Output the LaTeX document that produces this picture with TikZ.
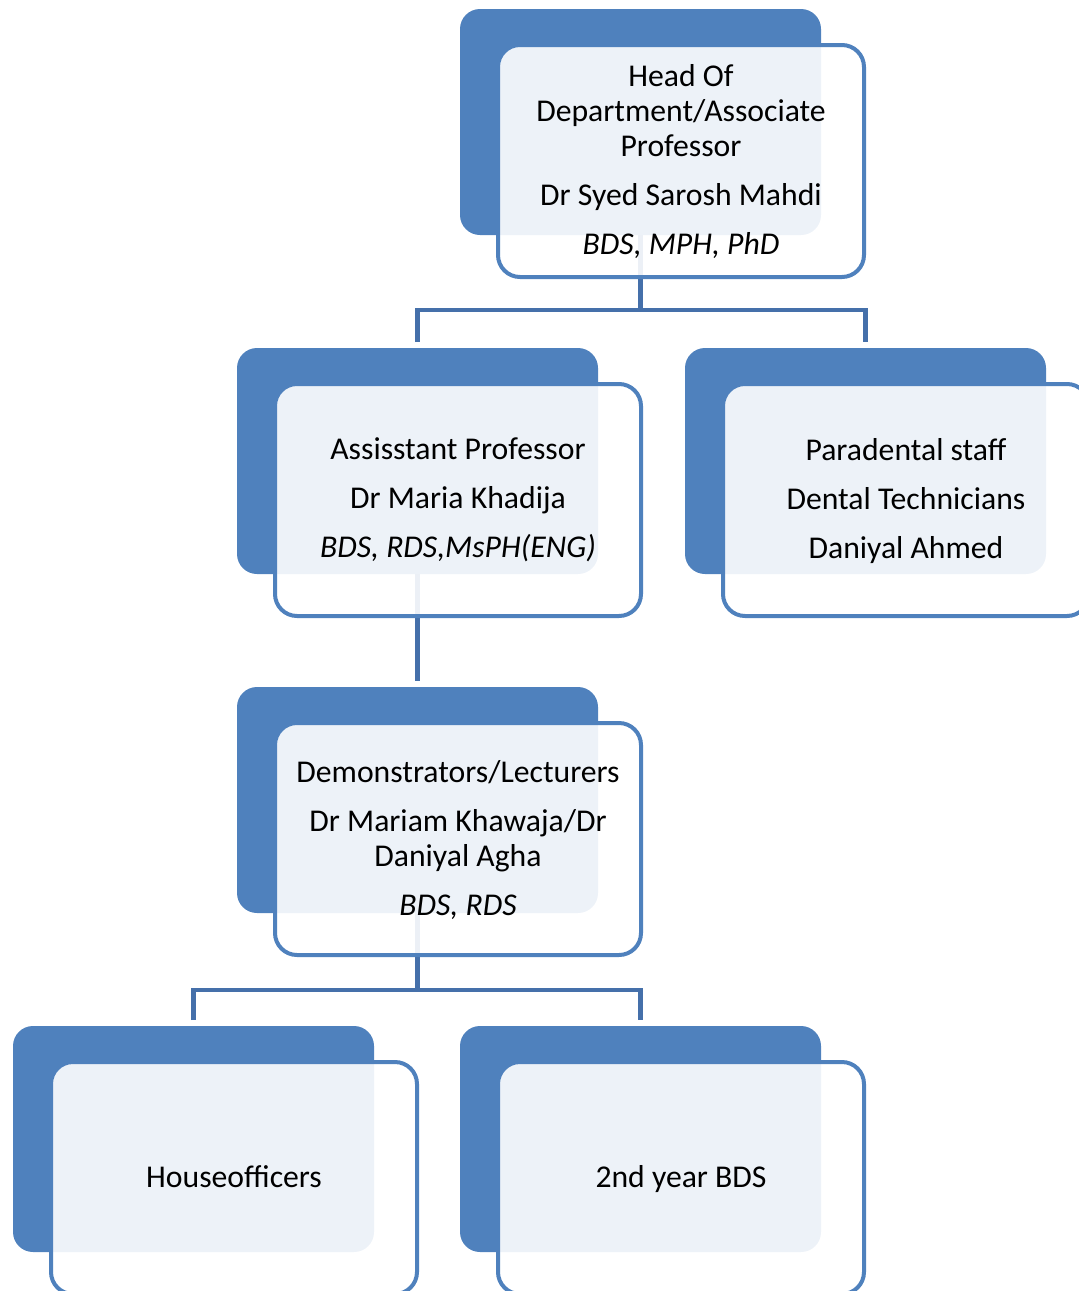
\documentclass[tikz,border=0pt]{standalone}
\usepackage{fontspec}
\setmainfont{Carlito}
\definecolor{accent}{HTML}{4F81BD}
\definecolor{connc}{HTML}{4570AA}
\tikzset{
  backbox/.style={rectangle, rounded corners=20pt, fill=accent, minimum width=361pt, minimum height=226pt, inner sep=0pt, outer sep=0pt},
  frontbox/.style={rectangle, rounded corners=22pt, fill=white, fill opacity=0.9, draw=accent, line width=4pt, minimum width=366pt, minimum height=232pt, inner sep=0pt, outer sep=0pt},
  boxtext/.style={anchor=north, align=center, inner sep=0pt, outer sep=0pt, text=black, font=\fontsize{31.7}{35}\selectfont},
  conn/.style={draw=connc, line width=4.5pt, line join=miter}
}
\newcommand{\topstrut}{\rule{0pt}{25pt}}
\begin{document}
\begin{tikzpicture}[x=1pt,y=-1pt]
\useasboundingbox (0,0) rectangle (1079,1291);
\clip (0,0) rectangle (1079,1291);
% back boxes
\node[backbox] (hb)  at (640.5,122)  {};
\node[backbox] (alb) at (417.5,461)  {};
\node[backbox] (arb) at (865.5,461)  {};
\node[backbox] (mb)  at (417.5,800)  {};
\node[backbox] (lb)  at (193.5,1139) {};
\node[backbox] (rb)  at (640.5,1139) {};
% connectors
\coordinate (j1) at (640.5,310);
\coordinate (j2) at (417.5,990);
\draw[conn] (hb.south) -- (j1);
\draw[conn] ([yshift=6pt]alb.north) |- (j1) -| ([yshift=6pt]arb.north);
\draw[conn] (alb.south) -- ([yshift=6pt]mb.north);
\draw[conn] (mb.south) -- (j2);
\draw[conn] ([yshift=6pt]lb.north) |- (j2) -| ([yshift=6pt]rb.north);
% front boxes
\node[frontbox] (hf)  at (681,161)  {};
\node[frontbox] (alf) at (458,500)  {};
\node[frontbox] (arf) at (906,500)  {};
\node[frontbox] (mf)  at (458,839)  {};
\node[frontbox] (lf)  at (234,1178) {};
\node[frontbox] (rf)  at (681,1178) {};
% texts
\node[boxtext] (ht) at (681,61) {\topstrut Head Of\\Department/Associate\\Professor\\[14pt]Dr Syed Sarosh Mahdi\\[14pt]\textit{BDS, MPH, PhD}};
\node[boxtext] (alt) at (458,434) {\topstrut Assisstant Professor\\[14pt]Dr Maria Khadija\\[14pt]\textit{BDS, RDS,MsPH(ENG)}};
\node[boxtext] (art) at (906,435) {\topstrut Paradental staff\\[14pt]Dental Technicians\\[14pt]Daniyal Ahmed};
\node[boxtext] (mt) at (458,757) {\topstrut Demonstrators/Lecturers\\[14pt]Dr Mariam Khawaja/Dr\\Daniyal Agha\\[14pt]\textit{BDS, RDS}};
\node[boxtext] (lt) at (234,1162) {\topstrut Houseofficers};
\node[boxtext] (rt) at (681,1162) {\topstrut 2nd year BDS};
\end{tikzpicture}
\end{document}
